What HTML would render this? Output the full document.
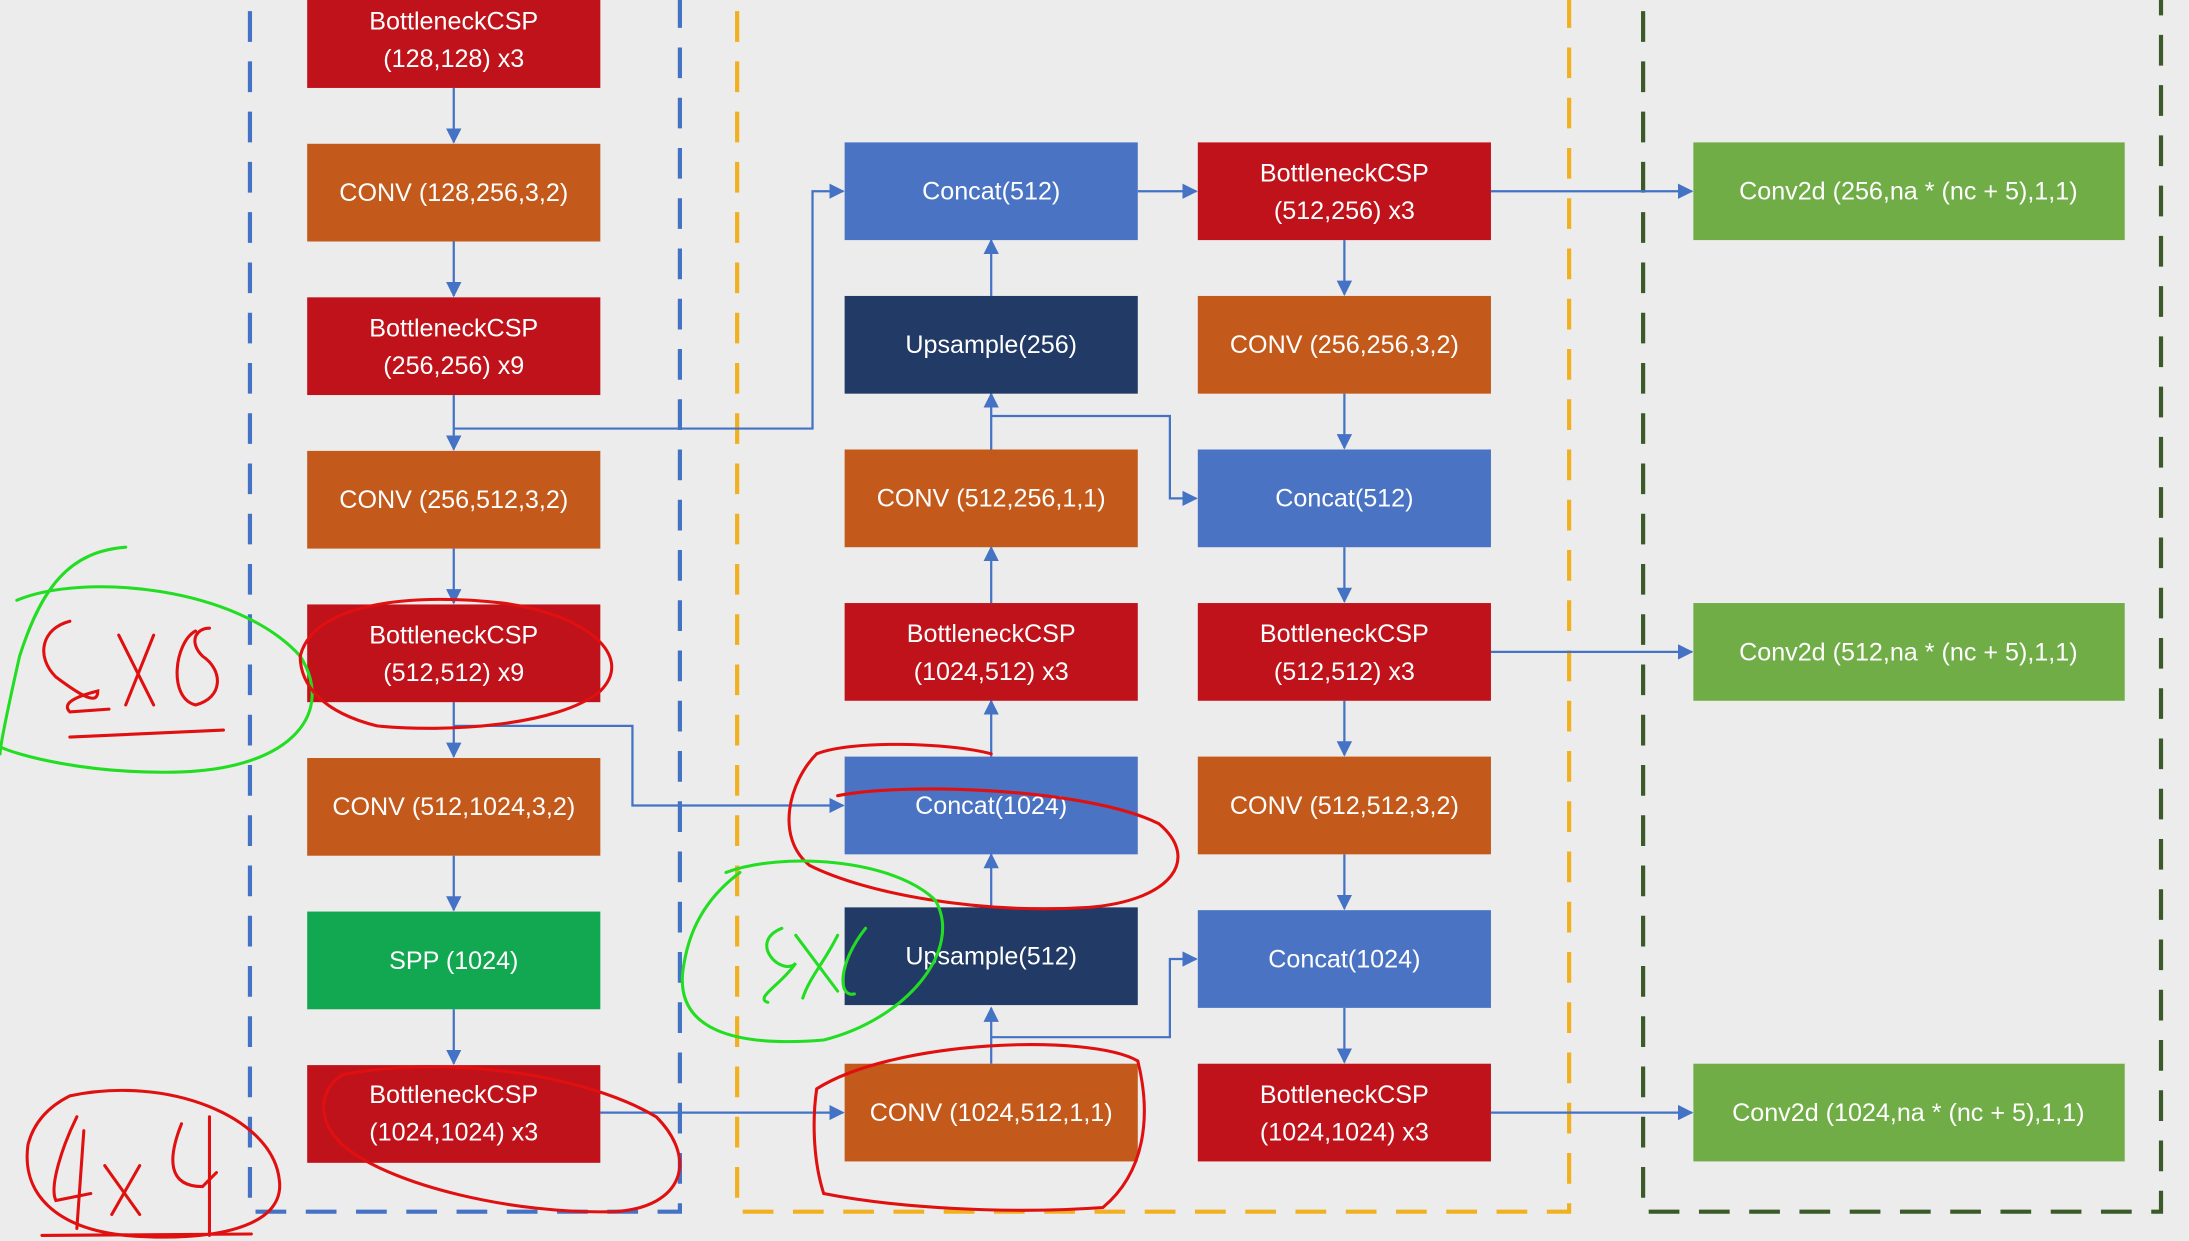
<!DOCTYPE html>
<html><head><meta charset="utf-8"><style>
html,body{margin:0;padding:0;background:#ececec;overflow:hidden}
svg{display:block}
text{font-family:"Liberation Sans",sans-serif;font-size:18px;fill:#fff;text-anchor:middle}
</style></head><body>
<svg width="2189" height="1241" viewBox="0 0 1568 889" xmlns="http://www.w3.org/2000/svg">
<defs><marker id="a" markerWidth="11" markerHeight="11" refX="10" refY="5.5" orient="auto" markerUnits="userSpaceOnUse"><path d="M0,0 L11,5.5 L0,11z" fill="#4472c4"/></marker></defs>
<rect width="1568" height="889" fill="#ececec"/>
<g fill="none" stroke-width="3" stroke-dasharray="22,14">
<path d="M179,8 V868 H487 V0" stroke="#4472c4"/>
<path d="M528,8 V868 H1124 V0" stroke="#f0b020"/>
<path d="M1177,8 V868 H1548 V0" stroke="#3a5a2a"/>
</g>
<g stroke="#4472c4" stroke-width="1.6" fill="none" marker-end="url(#a)">
<path d="M325,63 V102"/><path d="M325,173 V212"/><path d="M325,283 V322"/><path d="M325,393 V432"/><path d="M325,503 V542"/><path d="M325,613 V652"/><path d="M325,723 V762"/>
<path d="M325,307 H582 V137 H604"/>
<path d="M325,520 H453 V577 H604"/>
<path d="M430,797 H604"/>
<path d="M710,762 V722"/><path d="M710,650 V612"/><path d="M710,542 V502"/><path d="M710,432 V392"/><path d="M710,322 V282"/><path d="M710,212 V172"/>
<path d="M710,298 H838 V357 H857"/>
<path d="M710,743 H838 V687 H857"/>
<path d="M815,137 H857"/>
<path d="M963,172 V211"/><path d="M963,282 V321"/><path d="M963,392 V431"/><path d="M963,502 V541"/><path d="M963,612 V651"/><path d="M963,722 V761"/>
<path d="M1068,137 H1212"/><path d="M1068,467 H1212"/><path d="M1068,797 H1212"/>
</g>
<g>
<rect x="220" y="-7" width="210" height="70" fill="#c0121a"/><text x="325" y="21">BottleneckCSP</text><text x="325" y="48">(128,128) x3</text>
<rect x="220" y="103" width="210" height="70" fill="#c35a1b"/><text x="325" y="144">CONV (128,256,3,2)</text>
<rect x="220" y="213" width="210" height="70" fill="#c0121a"/><text x="325" y="241">BottleneckCSP</text><text x="325" y="268">(256,256) x9</text>
<rect x="220" y="323" width="210" height="70" fill="#c35a1b"/><text x="325" y="364">CONV (256,512,3,2)</text>
<rect x="220" y="433" width="210" height="70" fill="#c0121a"/><text x="325" y="461">BottleneckCSP</text><text x="325" y="488">(512,512) x9</text>
<rect x="220" y="543" width="210" height="70" fill="#c35a1b"/><text x="325" y="584">CONV (512,1024,3,2)</text>
<rect x="220" y="653" width="210" height="70" fill="#12a852"/><text x="325" y="694">SPP (1024)</text>
<rect x="220" y="763" width="210" height="70" fill="#c0121a"/><text x="325" y="790">BottleneckCSP</text><text x="325" y="817">(1024,1024) x3</text>

<rect x="605" y="102" width="210" height="70" fill="#4a73c4"/><text x="710" y="143">Concat(512)</text>
<rect x="605" y="212" width="210" height="70" fill="#213a66"/><text x="710" y="253">Upsample(256)</text>
<rect x="605" y="322" width="210" height="70" fill="#c35a1b"/><text x="710" y="363">CONV (512,256,1,1)</text>
<rect x="605" y="432" width="210" height="70" fill="#c0121a"/><text x="710" y="460">BottleneckCSP</text><text x="710" y="487">(1024,512) x3</text>
<rect x="605" y="542" width="210" height="70" fill="#4a73c4"/><text x="710" y="583">Concat(1024)</text>
<rect x="605" y="650" width="210" height="70" fill="#213a66"/><text x="710" y="691">Upsample(512)</text>
<rect x="605" y="762" width="210" height="70" fill="#c35a1b"/><text x="710" y="803">CONV (1024,512,1,1)</text>

<rect x="858" y="102" width="210" height="70" fill="#c0121a"/><text x="963" y="130">BottleneckCSP</text><text x="963" y="157">(512,256) x3</text>
<rect x="858" y="212" width="210" height="70" fill="#c35a1b"/><text x="963" y="253">CONV (256,256,3,2)</text>
<rect x="858" y="322" width="210" height="70" fill="#4a73c4"/><text x="963" y="363">Concat(512)</text>
<rect x="858" y="432" width="210" height="70" fill="#c0121a"/><text x="963" y="460">BottleneckCSP</text><text x="963" y="487">(512,512) x3</text>
<rect x="858" y="542" width="210" height="70" fill="#c35a1b"/><text x="963" y="583">CONV (512,512,3,2)</text>
<rect x="858" y="652" width="210" height="70" fill="#4a73c4"/><text x="963" y="693">Concat(1024)</text>
<rect x="858" y="762" width="210" height="70" fill="#c0121a"/><text x="963" y="790">BottleneckCSP</text><text x="963" y="817">(1024,1024) x3</text>

<rect x="1213" y="102" width="309" height="70" fill="#70ad47"/><text x="1367" y="143">Conv2d (256,na * (nc + 5),1,1)</text>
<rect x="1213" y="432" width="309" height="70" fill="#70ad47"/><text x="1367" y="473">Conv2d (512,na * (nc + 5),1,1)</text>
<rect x="1213" y="762" width="309" height="70" fill="#70ad47"/><text x="1367" y="803">Conv2d (1024,na * (nc + 5),1,1)</text>
</g>
<g fill="none" stroke-width="2.2" stroke-linecap="round">
<path d="M90,392 C50,395 30,420 14,470 C5,510 0,535 0,540" stroke="#22dd22"/>
<path d="M12,430 C60,410 170,420 215,470 C240,510 210,550 130,553 C60,555 10,540 0,535" stroke="#22dd22"/>
<path d="M50,445 C30,450 25,470 40,485 C60,500 70,505 70,495 C50,500 45,505 50,510 L78,508" stroke="#e01010"/>
<path d="M85,455 L110,505 M110,455 L90,505" stroke="#e01010"/>
<path d="M140,452 C125,460 120,500 140,505 C160,500 160,480 145,470 C135,460 140,450 150,450" stroke="#e01010"/>
<path d="M50,528 L160,523" stroke="#e01010"/>
<path d="M215,470 C225,430 300,425 360,432 C420,440 455,470 430,495 C400,520 320,525 270,520 C230,510 215,490 215,470" stroke="#e01010"/>
<path d="M585,540 C610,530 680,532 710,540 M600,570 C650,560 780,565 830,590 C860,615 840,645 780,650 C700,655 620,640 580,620 C555,600 565,560 585,540" stroke="#e01010"/>
<path d="M520,625 C560,610 640,615 670,645 C690,680 650,730 590,745 C530,750 480,740 490,690 C495,660 510,640 530,625" stroke="#22dd22"/>
<path d="M560,665 C535,675 560,700 570,690 C560,705 540,715 550,718 M570,670 L600,710 M600,670 C590,690 580,700 575,715 M620,665 C600,690 600,715 612,712" stroke="#22dd22"/>
<path d="M585,780 C640,745 780,740 815,760 C825,800 820,840 790,865 C720,870 640,865 590,855 C582,830 582,800 585,780" stroke="#e01010"/>
<path d="M245,770 C320,755 420,770 470,800 C500,830 490,865 440,868 C370,870 280,850 245,820 C225,800 230,780 245,770" stroke="#e01010"/>
<path d="M50,785 C120,770 195,800 200,845 C205,880 150,890 90,885 C40,880 15,855 20,820 C25,800 40,790 50,785" stroke="#e01010"/>
<path d="M55,800 C45,820 35,850 40,860 L65,855 M60,810 L55,880 M75,835 L100,870 M100,835 L80,870 M130,805 C120,830 120,850 145,850 L155,840 M150,800 L150,885 M30,885 L180,884" stroke="#e01010"/>
</g>
</svg>
</body></html>
